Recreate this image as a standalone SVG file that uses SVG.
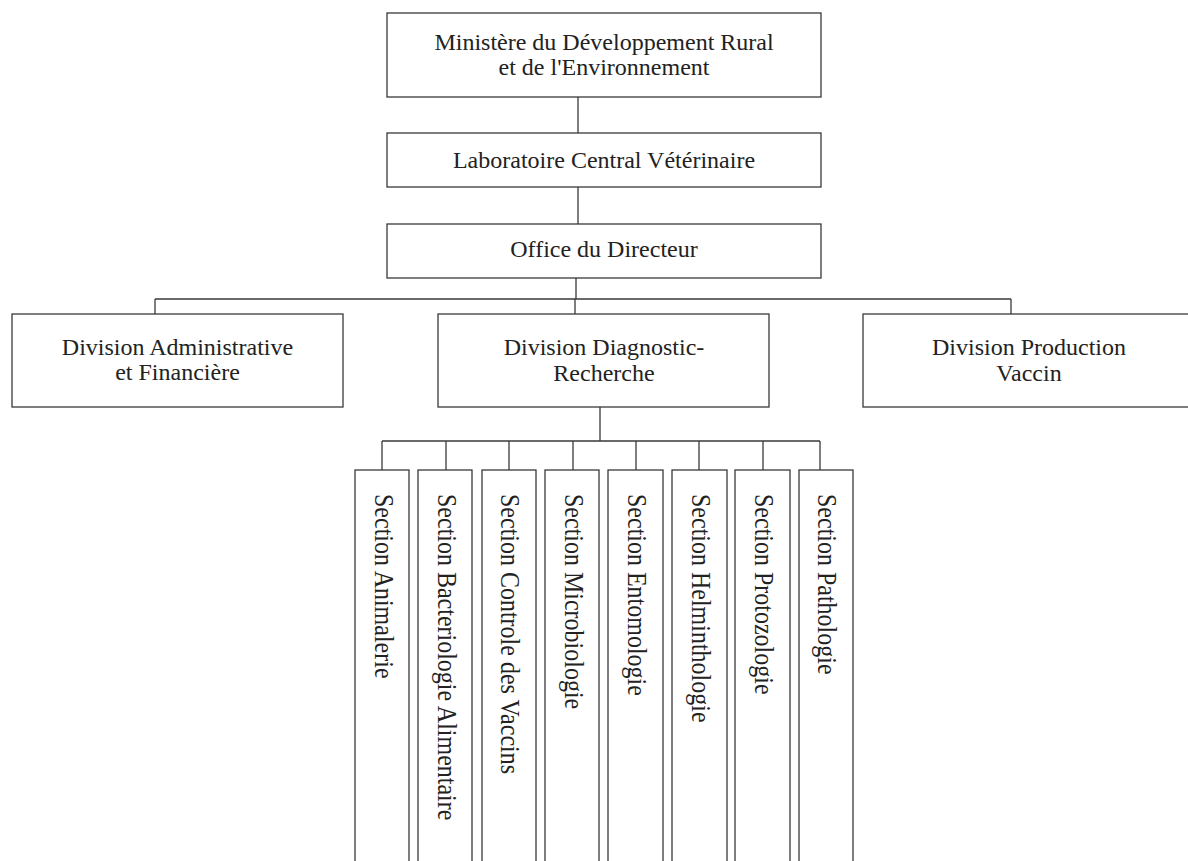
<svg xmlns="http://www.w3.org/2000/svg" width="1188" height="861" viewBox="0 0 1188 861">
<style>
.box{fill:#fff;stroke:#3a3a3a;stroke-width:1.3}
.ln{fill:none;stroke:#3a3a3a;stroke-width:1.3}
text{font-family:"Liberation Serif","Times New Roman",serif;font-size:24px;fill:#222}
.c{text-anchor:middle}
</style>
<rect width="1188" height="861" fill="#fff"/>
<g id="connectors">
<path class="ln" d="M578 97V133M578 187V224M576 278V299M155 299H1011M155 299V314M575 299V314M1011 299V314"/>
<path class="ln" d="M600 407V441M382 441H820M382 441V470M446 441V470M509 441V470M573 441V470M636 441V470M699 441V470M763 441V470M820 441V470"/>
</g>
<g id="ministere"><rect class="box" x="387" y="13" width="434" height="84"/>
<text class="c" x="604" y="50">Ministère du Développement Rural</text>
<text class="c" x="604" y="75">et de l'Environnement</text></g>
<g id="lcv"><rect class="box" x="387" y="133" width="434" height="54"/>
<text class="c" x="604" y="168">Laboratoire Central Vétérinaire</text></g>
<g id="office"><rect class="box" x="387" y="224" width="434" height="54"/>
<text class="c" x="604" y="257">Office du Directeur</text></g>
<g id="div-admin"><rect class="box" x="12" y="314" width="331" height="93"/>
<text class="c" x="177.5" y="355">Division Administrative</text>
<text class="c" x="177.5" y="380">et Financière</text></g>
<g id="div-diag"><rect class="box" x="438" y="314" width="331" height="93"/>
<text class="c" x="604" y="355">Division Diagnostic-</text>
<text class="c" x="604" y="381">Recherche</text></g>
<g id="div-prod"><rect class="box" x="863" y="314" width="340" height="93"/>
<text class="c" x="1029" y="355">Division Production</text>
<text class="c" x="1029" y="381">Vaccin</text></g>
<g id="sec-animalerie"><rect class="box" x="355" y="470" width="54" height="400"/>
<text transform="translate(375,494) rotate(90) scale(1,1.12)">Section Animalerie</text></g>
<g id="sec-bacterio"><rect class="box" x="418" y="470" width="54" height="400"/>
<text transform="translate(437.5,494) rotate(90) scale(1,1.12)">Section Bacteriologie Alimentaire</text></g>
<g id="sec-controle"><rect class="box" x="482" y="470" width="54" height="400"/>
<text transform="translate(501,494) rotate(90) scale(1,1.12)">Section Controle des Vaccins</text></g>
<g id="sec-micro"><rect class="box" x="545" y="470" width="54" height="400"/>
<text transform="translate(564.5,494) rotate(90) scale(1,1.12)">Section Microbiologie</text></g>
<g id="sec-ento"><rect class="box" x="608" y="470" width="55" height="400"/>
<text transform="translate(628,494) rotate(90) scale(1,1.12)">Section Entomologie</text></g>
<g id="sec-helmin"><rect class="box" x="672" y="470" width="55" height="400"/>
<text transform="translate(692,494) rotate(90) scale(1,1.12)">Section Helminthologie</text></g>
<g id="sec-proto"><rect class="box" x="735" y="470" width="55" height="400"/>
<text transform="translate(755,494) rotate(90) scale(1,1.12)">Section Protozologie</text></g>
<g id="sec-patho"><rect class="box" x="799" y="470" width="54" height="400"/>
<text transform="translate(818,494) rotate(90) scale(1,1.12)">Section Pathologie</text></g>
</svg>
